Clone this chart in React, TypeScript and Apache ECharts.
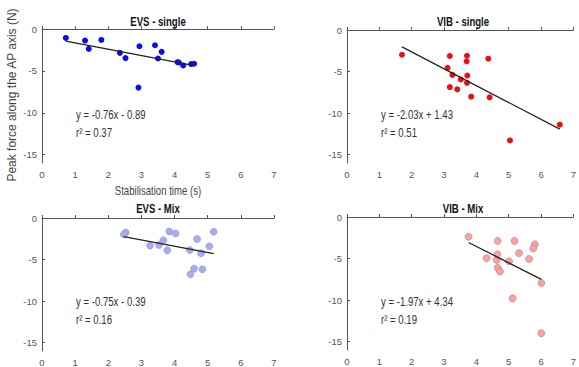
import React, { useEffect, useRef } from "react";
import * as echarts from "echarts";

// ---- data ----
const evsSingleX = [0.72, 1.30, 1.41, 1.79, 2.35, 2.52, 2.94, 2.91, 3.41, 3.50, 3.61, 4.09, 4.13, 4.26, 4.50, 4.59];
const evsSingleY = [-1.07, -1.38, -2.37, -1.31, -2.85, -3.48, -2.06, -7.0, -1.94, -3.52, -2.73, -3.96, -4.0, -4.35, -4.19, -4.15];

const vibSingleX = [1.70, 3.18, 3.71, 4.37, 3.70, 3.11, 3.26, 3.52, 3.72, 3.71, 3.18, 3.41, 3.84, 4.41, 5.04, 6.58];
const vibSingleY = [-2.98, -3.13, -3.10, -3.45, -3.77, -4.56, -5.40, -5.95, -5.48, -6.35, -6.87, -7.14, -8.02, -8.10, -13.29, -11.39];

const evsMixX = [2.53, 2.47, 3.26, 3.53, 3.66, 3.78, 3.84, 4.03, 4.46, 4.68, 4.80, 5.05, 5.18, 4.59, 4.84, 4.48];
const evsMixY = [-1.74, -1.98, -3.32, -3.24, -2.69, -3.88, -1.62, -1.86, -3.84, -2.53, -4.23, -3.40, -1.66, -6.09, -6.17, -6.77];

const vibMixX = [3.76, 4.66, 5.18, 5.81, 5.76, 5.32, 4.32, 4.63, 4.65, 5.01, 5.63, 4.66, 4.73, 6.01, 5.12, 6.01];
const vibMixY = [-2.37, -2.88, -2.88, -3.28, -3.79, -4.34, -4.97, -5.17, -4.50, -5.33, -5.05, -6.12, -6.55, -7.94, -9.79, -13.98];

const panelTitles = ["EVS - single", "VIB - single", "EVS - Mix", "VIB - Mix"];
const slopes = [-0.76, -2.03, -0.75, -1.97];
const intercepts = [-0.89, 1.43, -0.39, 4.34];
const equations = ["y = -0.76x - 0.89", "y = -2.03x + 1.43", "y = -0.75x - 0.39", "y = -1.97x + 4.34"];
const rSquared = ["r\u00B2 = 0.37", "r\u00B2 = 0.51", "r\u00B2 = 0.16", "r\u00B2 = 0.19"];
const yTickValues = [0, -5, -10, -15];
const yAxisTitle = "Peak force along the AP axis (N)";
const xAxisTitle = "Stabilisation time (s)";

const FONT = "'Liberation Sans', Arial, sans-serif";
const SQUEEZE = 0.8;

export default function App() {
  const ref = useRef<HTMLDivElement>(null);
  useEffect(() => {
    if (!ref.current) return;
    const chart = echarts.init(ref.current, undefined, { renderer: "svg" });

    const xs = [evsSingleX, vibSingleX, evsMixX, vibMixX];
    const ys = [evsSingleY, vibSingleY, evsMixY, vibMixY];
    const grids = [
      { left: 42, top: 29, width: 232, height: 134 },
      { left: 347, top: 30, width: 233, height: 133 },
      { left: 42, top: 218, width: 232, height: 133 },
      { left: 347, top: 217, width: 233, height: 133 },
    ];
    const styles = [
      { color: "#0b0bef", borderColor: "#0b0bef", borderWidth: 0, size: 6 },
      { color: "#e81111", borderColor: "#e81111", borderWidth: 0, size: 6 },
      { color: "#a9abef", borderColor: "#9496dc", borderWidth: 0.6, size: 7 },
      { color: "#f5a4a4", borderColor: "#c97070", borderWidth: 0.6, size: 7 },
    ];

    const axisColor = "#555";
    const xAxes = grids.map((_, i) => ({
      type: "value",
      gridIndex: i,
      min: 0,
      max: 7,
      interval: 1,
      axisLine: { show: true, lineStyle: { color: axisColor, width: 1 } },
      axisTick: { show: true, inside: true, length: 3, lineStyle: { color: axisColor } },
      axisLabel: { color: "#555", fontSize: 9.5, fontFamily: FONT, margin: 6, showMinLabel: true, showMaxLabel: true },
      splitLine: { show: false },
    }));
    const yAxes = grids.map((_, i) => ({
      type: "value",
      gridIndex: i,
      min: -16,
      max: 0,
      axisLine: { show: true, lineStyle: { color: axisColor, width: 1 } },
      axisTick: { show: true, inside: true, length: 3, customValues: yTickValues, lineStyle: { color: axisColor } },
      axisLabel: { color: "#555", fontSize: 9.5, fontFamily: FONT, margin: 5, customValues: yTickValues },
      splitLine: { show: false },
    }));

    const series: any[] = [];
    xs.forEach((xArr, i) => {
      const s = styles[i];
      series.push({
        type: "scatter",
        xAxisIndex: i,
        yAxisIndex: i,
        symbol: "circle",
        symbolSize: s.size,
        itemStyle: { color: s.color, borderColor: s.borderColor, borderWidth: s.borderWidth, opacity: 1 },
        data: xArr.map((x, k) => [x, ys[i][k]]),
        z: 2,
      });
      const xmin = Math.min(...xArr);
      const xmax = Math.max(...xArr);
      series.push({
        type: "line",
        xAxisIndex: i,
        yAxisIndex: i,
        symbol: "none",
        lineStyle: { color: "#222", width: 1.3 },
        data: [
          [xmin, slopes[i] * xmin + intercepts[i]],
          [xmax, slopes[i] * xmax + intercepts[i]],
        ],
        z: 3,
      });
    });

    const titlePos = [
      [158, 22],
      [463, 22],
      [158, 209],
      [463, 209],
    ];
    const annPos = [
      [76, 115],
      [381, 115],
      [76, 302],
      [381, 302],
    ];
    const graphic: any[] = [];
    panelTitles.forEach((t, i) => {
      graphic.push({
        type: "text",
        x: titlePos[i][0],
        y: titlePos[i][1],
        scaleX: SQUEEZE,
        style: { text: t, fontSize: 12, fontWeight: "bold", fontFamily: FONT, fill: "#111", align: "center", verticalAlign: "middle" },
      });
      graphic.push({
        type: "text",
        x: annPos[i][0],
        y: annPos[i][1],
        scaleX: SQUEEZE,
        style: { text: equations[i], fontSize: 12, fontFamily: FONT, fill: "#333", align: "left", verticalAlign: "middle" },
      });
      graphic.push({
        type: "text",
        x: annPos[i][0],
        y: annPos[i][1] + 18,
        scaleX: SQUEEZE,
        style: { text: rSquared[i], fontSize: 12, fontFamily: FONT, fill: "#333", align: "left", verticalAlign: "middle" },
      });
    });
    graphic.push({
      type: "text",
      x: 12,
      y: 95,
      rotation: Math.PI / 2,
      style: { text: yAxisTitle, fontSize: 12, fontFamily: FONT, fill: "#444", align: "center", verticalAlign: "middle" },
    });
    graphic.push({
      type: "text",
      x: 158,
      y: 191,
      scaleX: SQUEEZE,
      style: { text: xAxisTitle, fontSize: 12, fontFamily: FONT, fill: "#444", align: "center", verticalAlign: "middle" },
    });

    chart.setOption({
      animation: false,
      backgroundColor: "#fff",
      grid: grids,
      xAxis: xAxes,
      yAxis: yAxes,
      series,
      graphic,
    });
    return () => chart.dispose();
  }, []);
  return <div ref={ref} style={{ position: "fixed", left: 0, top: 0, width: 579, height: 367 }} />;
}
